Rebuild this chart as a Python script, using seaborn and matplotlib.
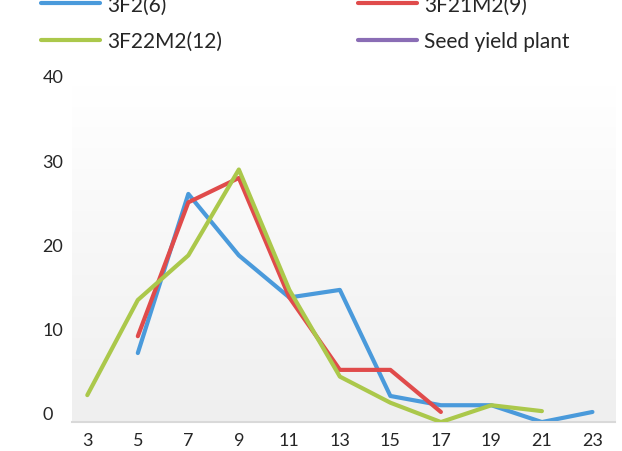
import numpy as np
import pandas as pd
import matplotlib
matplotlib.use("Agg")
import matplotlib.pyplot as plt
import seaborn as sns

# data
x_3f2 = [5, 7, 9, 11, 13, 15, 17, 19, 21, 23]
y_3f2 = [8.2, 27.1, 19.8, 14.8, 15.7, 3.1, 2.0, 2.0, 0.0, 1.2]

x_3f21m2 = [5, 7, 9, 11, 13, 15, 17]
y_3f21m2 = [10.2, 26.1, 29.0, 14.8, 6.2, 6.2, 1.2]

x_3f22m2 = [3, 5, 7, 9, 11, 13, 15, 17, 19, 21]
y_3f22m2 = [3.2, 14.5, 19.8, 30.0, 15.7, 5.4, 2.3, 0.0, 2.0, 1.3]

x_ticks = [3, 5, 7, 9, 11, 13, 15, 17, 19, 21, 23]
y_ticks = [0, 10, 20, 30, 40]

colors = {"3F2(6)": "#4a9adb", "3F21M2(9)": "#e04b4b",
          "3F22M2(12)": "#abc84b", "Seed yield plant": "#8a6db5"}

sns.set_theme(style="white")
plt.rcParams['font.family'] = ['Lato', 'DejaVu Sans']

fig = plt.figure(figsize=(6.22, 4.52), dpi=100)
ax = fig.add_axes([0.116, 0.064, 0.873, 0.745])

# soft grey gradient background like the original
grad = np.linspace(1.0, 0.0, 256).reshape(-1, 1)
ax.imshow(grad, cmap=matplotlib.colors.LinearSegmentedColormap.from_list(
    "bg", ["#efefef", "#ffffff"]), aspect="auto", extent=[0, 1, 0, 1],
    transform=ax.transAxes, zorder=0)

lw = 3
sns.lineplot(x=x_3f2, y=y_3f2, ax=ax, color=colors["3F2(6)"], lw=lw,
             label="3F2(6)", zorder=2)
sns.lineplot(x=x_3f22m2, y=y_3f22m2, ax=ax, color=colors["3F22M2(12)"], lw=lw,
             label="3F22M2(12)", zorder=4)
sns.lineplot(x=x_3f21m2, y=y_3f21m2, ax=ax, color=colors["3F21M2(9)"], lw=lw,
             label="3F21M2(9)", zorder=3)
ax.plot([], [], color=colors["Seed yield plant"], lw=lw, label="Seed yield plant")

ax.set_xlim(2.4, 23.9)
ax.set_ylim(0, 40)
ax.set_xticks(x_ticks)
ax.set_xticklabels([str(v) for v in x_ticks], fontsize=13)
ax.set_yticks(y_ticks)
ax.set_yticklabels([str(v) for v in y_ticks], fontsize=13, ha="left", va="bottom")
ax.tick_params(axis="y", length=0, pad=21.5)
ax.tick_params(axis="x", length=0, pad=7)
ax.set_xlabel("")
ax.set_ylabel("")

for side in ["top", "right", "left"]:
    ax.spines[side].set_visible(False)
ax.spines["bottom"].set_color("#d9d9d9")
ax.spines["bottom"].set_linewidth(1.5)

handles, labels = ax.get_legend_handles_labels()
ax.get_legend().remove()
order = ["3F2(6)", "3F22M2(12)", "3F21M2(9)", "Seed yield plant"]
hmap = dict(zip(labels, handles))
fig.legend([hmap[k] for k in order], order, ncol=2, frameon=False,
           loc="center left", bbox_to_anchor=(0.066, 0.947),
           fontsize=15, handlelength=2.85, handletextpad=0.34,
           labelspacing=0.8, columnspacing=6.5, borderpad=0, borderaxespad=0)

plt.savefig("out.png", dpi=100)
